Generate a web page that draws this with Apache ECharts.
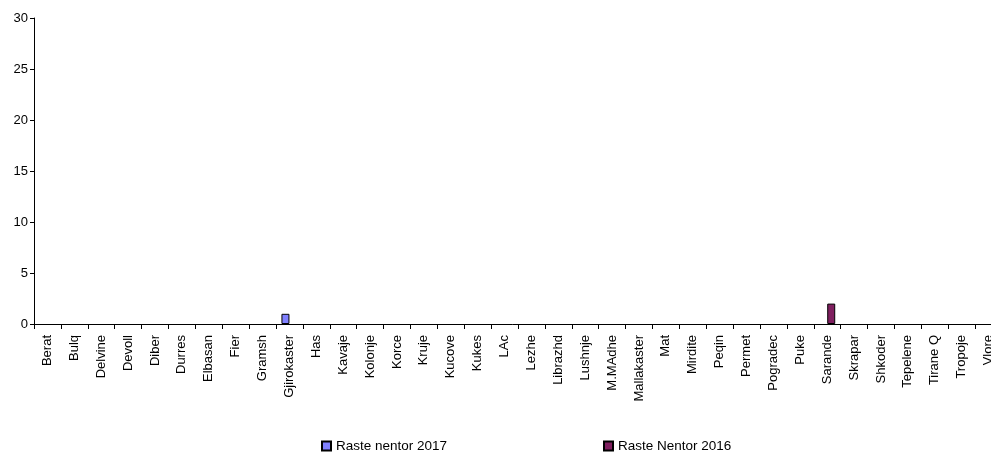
<!DOCTYPE html>
<html>
<head>
<meta charset="utf-8">
<script src="https://cdn.jsdelivr.net/npm/echarts@6/dist/echarts.min.js"></script>
<style>
  html, body { margin: 0; padding: 0; background: #fff; }
  #main { width: 991px; height: 452px; }
</style>
</head>
<body>
<div id="main"></div>
<script>
// qarqet / rrethet
var rrethet = ['Berat','Bulq','Delvine','Devoll','Diber','Durres','Elbasan','Fier','Gramsh','Gjirokaster',
    'Has','Kavaje','Kolonje','Korce','Kruje','Kucove','Kukes','LAc','Lezhe','Librazhd',
    'Lushnje','M.MAdhe','Mallakaster','Mat','Mirdite','Peqin','Permet','Pogradec','Puke','Sarande',
    'Skrapar','Shkoder','Tepelene','Tirane Q','Tropoje','Vlore'];

var raste2017 = [0,0,0,0,0,0,0,0,0,1, 0,0,0,0,0,0,0,0,0,0, 0,0,0,0,0,0,0,0,0,0, 0,0,0,0,0,0];
var raste2016 = [0,0,0,0,0,0,0,0,0,0, 0,0,0,0,0,0,0,0,0,0, 0,0,0,0,0,0,0,0,0,2, 0,0,0,0,0,0];

var emri2017 = 'Raste nentor 2017';
var emri2016 = 'Raste Nentor 2016';

// vlerat 0 nuk vizatohen (pa vije te holle ne aks)
function paZero(arr) {
    return arr.map(function (v) { return v === 0 ? '-' : v; });
}

var myChart = echarts.init(document.getElementById('main'));

var fonti = 'Liberation Sans, Arial, sans-serif';

var option = {
    animation: false,
    textStyle: { fontFamily: fonti },
    grid: {
        left: 34,
        right: -11,
        top: 18,
        bottom: 128,
        outerBoundsMode: 'none'
    },
    legend: [
        {
            data: [emri2017],
            left: 316,
            top: 434,
            icon: 'rect',
            itemWidth: 9,
            itemHeight: 9,
            textStyle: { fontSize: 13.5, color: '#000', fontFamily: fonti }
        },
        {
            data: [emri2016],
            left: 598,
            top: 434,
            icon: 'rect',
            itemWidth: 9,
            itemHeight: 9,
            textStyle: { fontSize: 13.5, color: '#000', fontFamily: fonti }
        }
    ],
    xAxis: {
        type: 'category',
        data: rrethet,
        axisLine: { lineStyle: { color: '#000', width: 1 } },
        axisTick: { show: true, length: 5, lineStyle: { color: '#000' } },
        axisLabel: {
            rotate: 90,
            interval: 0,
            color: '#000',
            fontSize: 13,
            margin: 11,
            fontFamily: fonti
        }
    },
    yAxis: {
        type: 'value',
        min: 0,
        max: 30,
        interval: 5,
        splitLine: { show: false },
        axisLine: { show: true, lineStyle: { color: '#000', width: 1 } },
        axisTick: { show: true, length: 4, lineStyle: { color: '#000' } },
        axisLabel: { color: '#000', fontSize: 13, margin: 6, fontFamily: fonti }
    },
    series: [
        {
            name: emri2017,
            type: 'bar',
            data: paZero(raste2017),
            barWidth: 8,
            barGap: '0%',
            itemStyle: { color: '#8080ff', borderColor: '#000', borderWidth: 1 }
        },
        {
            name: emri2016,
            type: 'bar',
            data: paZero(raste2016),
            barWidth: 8,
            barGap: '0%',
            itemStyle: { color: '#7f1f5f', borderColor: '#000', borderWidth: 1 }
        }
    ]
};

myChart.setOption(option);
window.onresize = function () { myChart.resize(); };
</script>
</body>
</html>
